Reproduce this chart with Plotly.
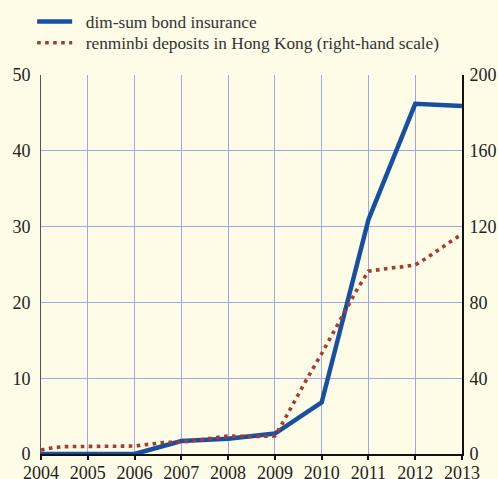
import plotly.graph_objects as go

years = [2004, 2005, 2006, 2007, 2008, 2009, 2010, 2011, 2012, 2013]
bond_issuance = [0.0, 0.0, 0.0, 1.7, 2.0, 2.7, 6.8, 30.9, 46.2, 45.9]

deposit_dates = [2004.0, 2004.25, 2004.5, 2005.0, 2005.5, 2006.0, 2006.33, 2006.67,
                 2007.0, 2007.33, 2007.67, 2008.0, 2008.5, 2009.0, 2009.17, 2009.33,
                 2009.5, 2009.67, 2010.0, 2010.25, 2010.5, 2010.75, 2011.0, 2011.25,
                 2011.5, 2011.75, 2012.0, 2012.25, 2012.5, 2012.75, 2013.0]
deposits = [2.1, 3.3, 3.9, 3.9, 3.9, 4.2, 5.2, 6.2, 6.2, 7.3, 8.8, 9.5, 9.2, 9.5,
            16.6, 24.0, 31.5, 39.0, 53.0, 64.0, 75.5, 86.5, 96.5, 97.5, 98.2,
            98.8, 99.8, 103.5, 108.0, 112.0, 116.0]

left_ticks = [0, 10, 20, 30, 40, 50]
right_ticks = [0, 40, 80, 120, 160, 200]

series_names = ["dim-sum bond insurance",
                "renminbi deposits in Hong Kong (right-hand scale)"]

BG = "#fefce6"
GRID = "#9ea8e6"
BLUE = "#1650a3"
RED = "#a83a30"
FONT = "Liberation Serif, Times New Roman, serif"
PAD = "\u00a0\u00a0"

fig = go.Figure()
fig.add_trace(go.Scatter(
    x=years, y=bond_issuance, mode="lines", name=PAD + series_names[0],
    line=dict(color=BLUE, width=4.5), yaxis="y", legend="legend"))
fig.add_trace(go.Scatter(
    x=deposit_dates, y=deposits, mode="lines", name=PAD + series_names[1],
    line=dict(color=RED, width=3.6, dash="3.6px,4.4px"), yaxis="y2",
    legend="legend2"))

legend_style = dict(
    x=-0.021, xanchor="left", yanchor="top",
    bgcolor="rgba(0,0,0,0)", font=dict(family=FONT, size=17.3, color="#333"),
    itemwidth=35, tracegroupgap=0,
)

fig.update_layout(
    width=498, height=479,
    paper_bgcolor=BG, plot_bgcolor=BG,
    margin=dict(l=41, r=36, t=75, b=25, autoexpand=False),
    font=dict(family=FONT, size=18, color="#222"),
    showlegend=True,
    legend=dict(y=1.188, **legend_style),
    legend2=dict(y=1.132, **legend_style),
    xaxis=dict(
        range=[2004, 2013], tickvals=years, ticktext=[str(y) for y in years],
        showgrid=True, gridcolor=GRID, gridwidth=1.2,
        showline=True, linecolor="#111", linewidth=2,
        ticks="outside", ticklen=4, tickwidth=2, tickcolor="#111",
        zeroline=False, ticklabelstandoff=-3,
    ),
    yaxis=dict(
        range=[0, 50], tickvals=left_ticks,
        showgrid=True, gridcolor=GRID, gridwidth=1.2,
        showline=True, linecolor="#555", linewidth=1,
        ticks="", zeroline=False, ticklabelstandoff=6,
    ),
    yaxis2=dict(
        range=[0, 200], tickvals=right_ticks, overlaying="y", side="right",
        showgrid=False, showline=True, linecolor="#111", linewidth=2,
        ticks="", zeroline=False, ticklabelstandoff=2,
    ),
)

fig.write_html("out.html", config={"displayModeBar": False},
               post_script="document.body.style.margin='0';")
